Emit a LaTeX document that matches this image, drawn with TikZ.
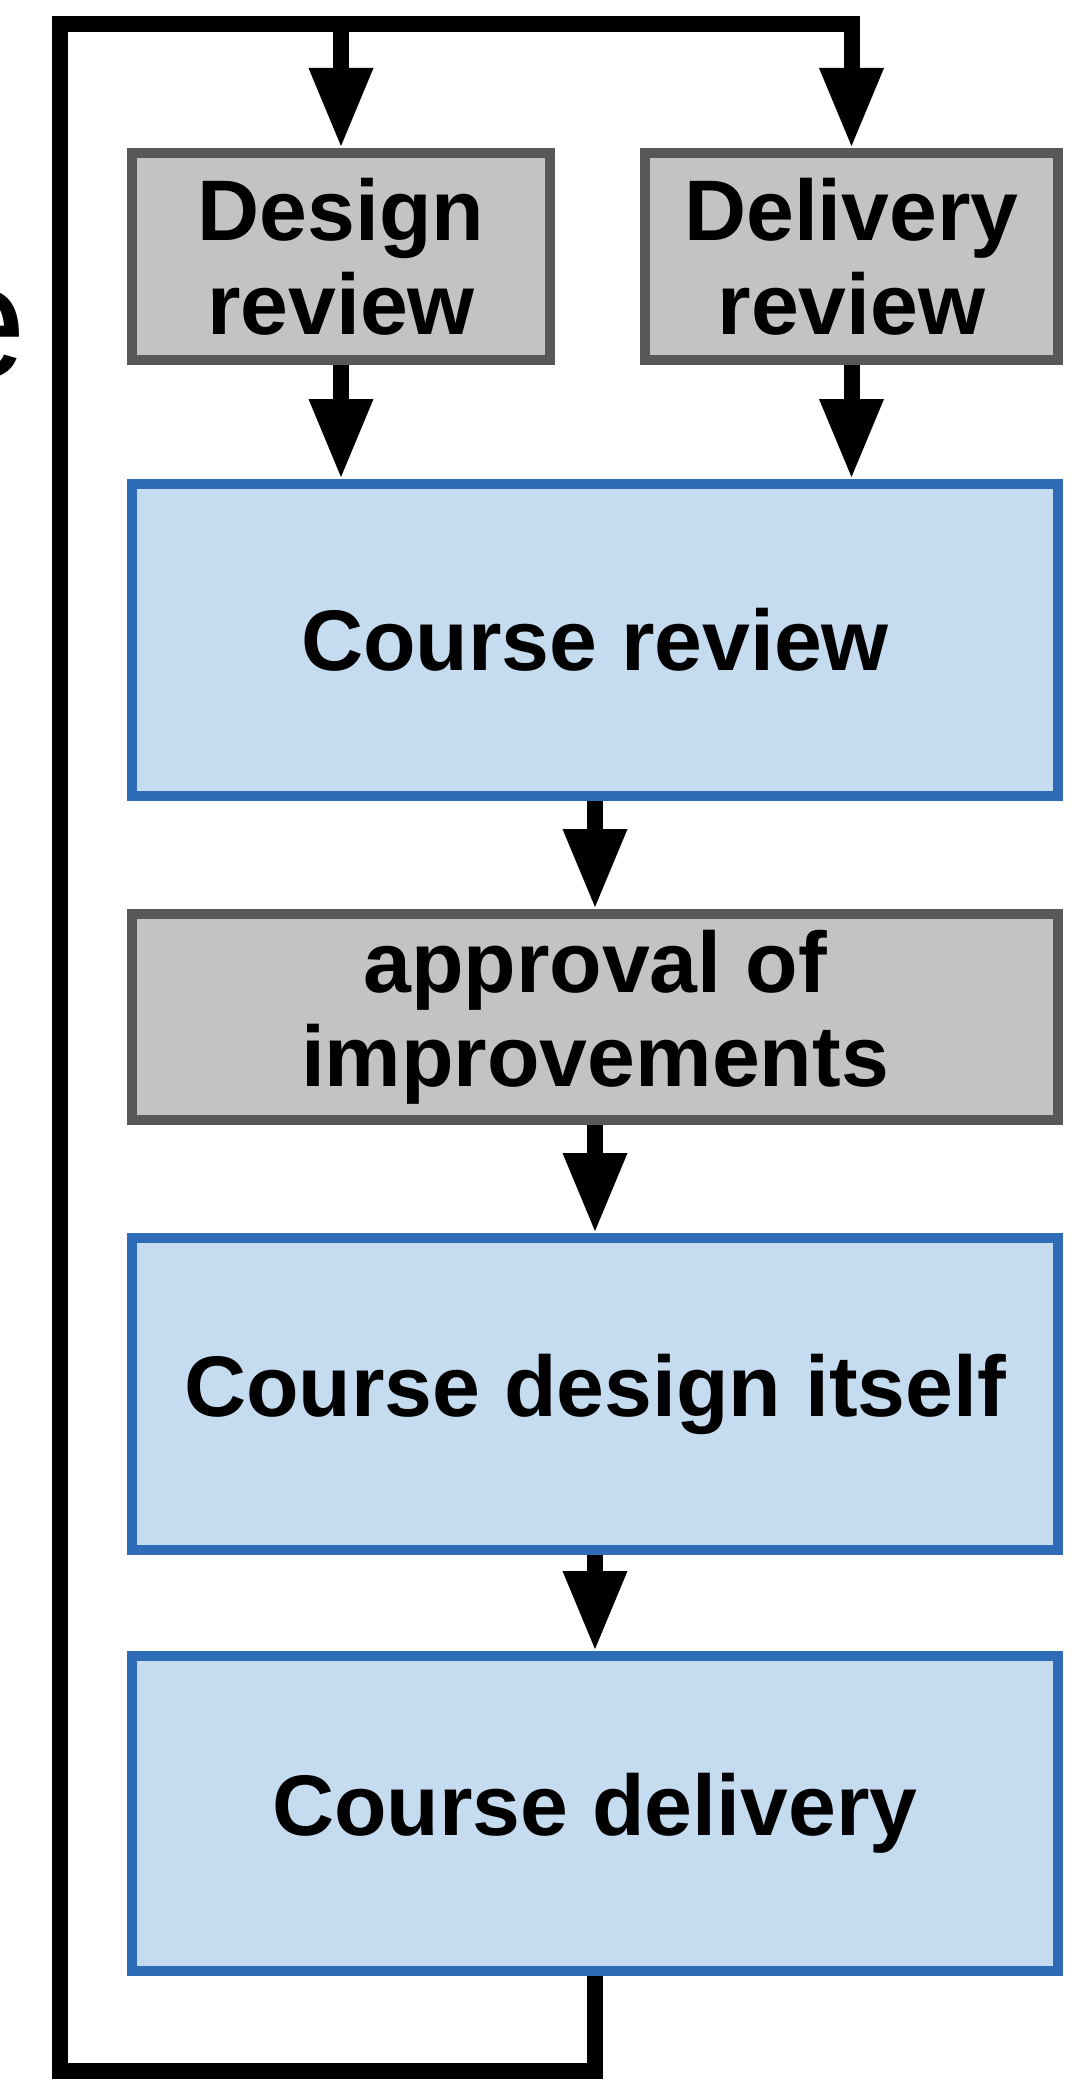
\documentclass[tikz,border=0pt]{standalone}
\usepackage{fontspec}
\setmainfont{Liberation Sans}
\usetikzlibrary{arrows.meta}
\definecolor{grayfill}{RGB}{195,195,195}
\definecolor{graydraw}{RGB}{88,88,88}
\definecolor{bluefill}{RGB}{197,219,239}
\definecolor{bluedraw}{RGB}{46,108,184}
\begin{document}
\begin{tikzpicture}[x=0.5pt,y=-0.5pt,
  boxtext/.style={align=center, font=\fontsize{43}{47}\selectfont\bfseries, inner sep=0pt},
  graybox/.style={boxtext, draw=graydraw, fill=grayfill, line width=5pt},
  bluebox/.style={boxtext, draw=bluedraw, fill=bluefill, line width=5pt, minimum width=463pt},
  conn/.style={line width=8pt, line join=miter, -{Triangle[width=30pt,length=40pt]}}]
\useasboundingbox (0,0) rectangle (1071,2081);
\node[font=\fontsize{82}{82}\selectfont, inner sep=0pt, anchor=base east] (etext) at (27,378) {e};
\node[graybox, minimum width=209pt, minimum height=103.5pt] (desrev) at (341,256.5) {Design\\review};
\node[graybox, minimum width=206.5pt, minimum height=103.5pt] (delrev) at (851.5,256.5) {Delivery\\review};
\node[bluebox, minimum height=156pt] (crev) at (595,640) {Course review};
\node[graybox, minimum width=463pt, minimum height=103pt] (appr) at (595,1017) {approval of\\improvements};
\node[bluebox, minimum height=156pt] (cdes) at (595,1394) {Course design itself};
\node[bluebox, minimum height=157.5pt] (cdel) at (595,1813.5) {Course delivery};
\coordinate (bl) at (60,2071);
\coordinate (tl) at (60,24);
\draw[conn] (desrev.south) -- (desrev.south |- crev.north);
\draw[conn] (delrev.south) -- (delrev.south |- crev.north);
\draw[conn] (crev.south) -- (appr.north);
\draw[conn] (appr.south) -- (cdes.north);
\draw[conn] (cdes.south) -- (cdel.north);
\draw[conn] (cdel.south) |- (bl) -- (tl) -- (delrev.north |- tl) -- (delrev.north);
\draw[conn] (desrev.north |- tl) -- (desrev.north);
\end{tikzpicture}
\end{document}
